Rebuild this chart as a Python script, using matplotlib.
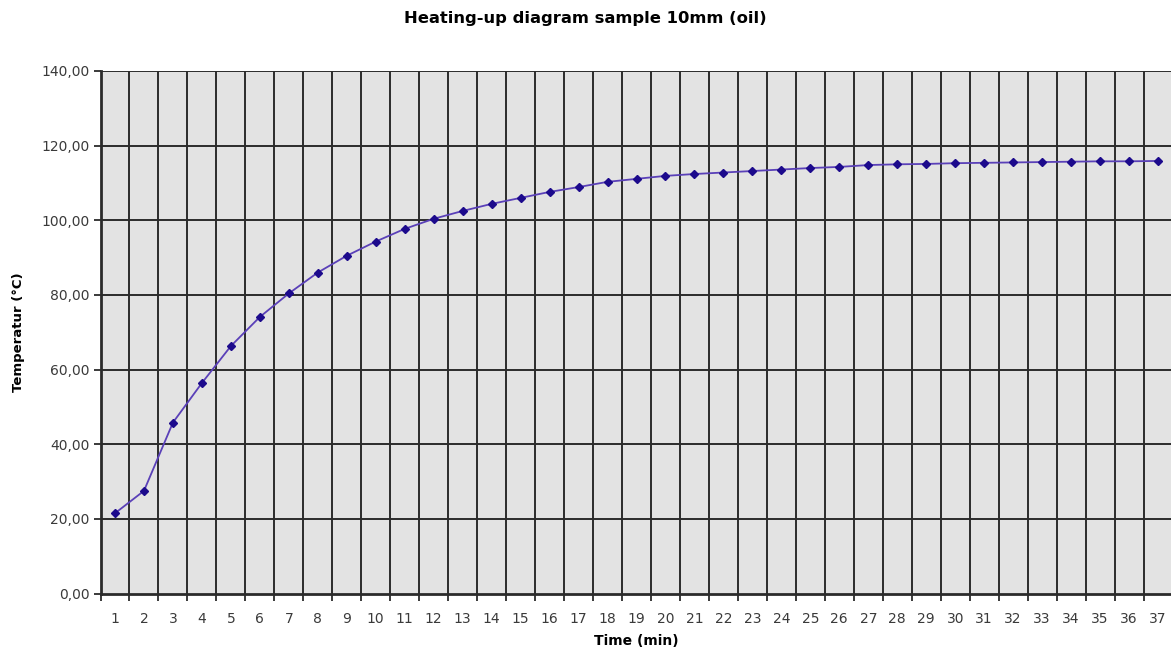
import numpy as np
import matplotlib.pyplot as plt
from matplotlib.ticker import FixedLocator, FuncFormatter

# heating-up data
time_min = list(range(1, 38))
temp_c = [21.5, 27.5, 45.8, 56.4, 66.3, 74.1, 80.4, 86.0, 90.5, 94.3,
          97.7, 100.4, 102.5, 104.4, 106.0, 107.6, 108.9, 110.3, 111.1, 111.9,
          112.4, 112.8, 113.2, 113.6, 114.0, 114.3, 114.8, 115.0, 115.1, 115.3,
          115.4, 115.5, 115.6, 115.7, 115.8, 115.8, 115.9]
y_ticks = [0, 20, 40, 60, 80, 100, 120, 140]

plt.rcParams.update({
    "font.family": ["DejaVu Sans"],
    "font.size": 10,
})

W, H = 1171, 655
fig = plt.figure(figsize=(W / 100, H / 100), dpi=100)
# plot area runs off the right edge like in the original
ax = fig.add_axes([100.5 / W, 1 - 593.5 / H, 1072 / W, 522.5 / H])
ax.set_facecolor("#e3e3e3")

ax.set_xlim(0.5, 37.5)
ax.set_ylim(0, 140)

# category boundaries as grid, excel style
bounds = np.arange(1.5, 38, 1.0)
for b in bounds:
    ax.axvline(b, color="#2b2b2b", lw=1.4, zorder=1)
for yv in y_ticks[1:]:
    ax.axhline(yv, color="#2b2b2b", lw=1.4, zorder=1)

ax.plot(time_min, temp_c, color="#5a40b8", lw=1.3, zorder=3)
ax.plot(time_min, temp_c, ls="none", marker="D", ms=4.5,
        color="#1c0a8c", zorder=4)

ax.set_yticks(y_ticks)
ax.yaxis.set_major_formatter(FuncFormatter(lambda v, p: f"{v:.2f}".replace(".", ",")))
ax.set_xticks(time_min)
ax.set_xticklabels([str(t) for t in time_min])
ax.xaxis.set_minor_locator(FixedLocator(np.arange(0.5, 38, 1.0)))
ax.tick_params(axis="x", which="major", length=0, pad=13, colors="#3a3a3a", labelsize=10)
ax.tick_params(axis="x", which="minor", length=5, width=1.3, color="#2b2b2b")
ax.tick_params(axis="y", length=5, width=1.3, color="#2b2b2b", labelcolor="#3a3a3a",
               labelsize=10, pad=3)

for s in ["top", "right"]:
    ax.spines[s].set_visible(False)
for s in ["left", "bottom"]:
    ax.spines[s].set_color("#2b2b2b")
    ax.spines[s].set_linewidth(2)

ax.set_xlabel("Time (min)", fontweight="bold", fontsize=10)
ax.set_ylabel("Temperatur (°C)", fontweight="bold", fontsize=9.5)
ax.xaxis.set_label_coords(0.5, (593.5 - 634) / 522.5)
ax.yaxis.set_label_coords((25 - 100.5) / 1072, 0.5)

fig.text(0.5, 1 - 18 / H, "Heating-up diagram sample 10mm (oil)",
         ha="center", va="center", fontweight="bold", fontsize=11.8)

fig.savefig("out.png", dpi=100)
